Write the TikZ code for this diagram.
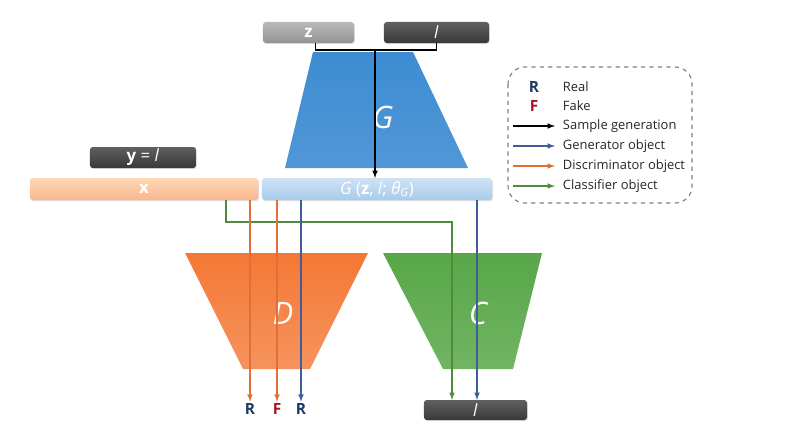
\documentclass[tikz,border=0pt]{standalone}
\usepackage{fontspec}
\setmainfont{Open Sans}
\usetikzlibrary{positioning,shadows}

\begin{document}
\begin{tikzpicture}
            [x=0.025cm, y=-0.025cm,
            >=latex,
            bar/.style={rounded corners=2pt, inner sep=0pt, outer sep=0pt, text=white, font=\fontsize{12}{14}\selectfont,
                drop shadow={shadow xshift=0.6pt, shadow yshift=-0.8pt, opacity=0.25}},
            darkbox/.style={bar, top color=boxtop, bottom color=boxbot},
            net/.style={font=\fontsize{22}{24}\selectfont\itshape, text=white},
            link/.style={->, line width=0.8pt},
            legtext/.style={anchor=west, font=\fontsize{9.2}{11}\selectfont, text=black!85},
            ]
            \definecolor{boxtop}{HTML}{606060}
            \definecolor{boxbot}{HTML}{383838}
            \definecolor{gcolor}{HTML}{3D8CD2}
            \definecolor{dcolor}{HTML}{F47835}
            \definecolor{ccolor}{HTML}{58A748}
            \definecolor{olink}{HTML}{E0703A}
            \definecolor{blink}{HTML}{3F5C9C}
            \definecolor{glink}{HTML}{4F8A3F}
            \definecolor{realcolor}{HTML}{1F3864}
            \definecolor{fakecolor}{HTML}{A31424}
            \useasboundingbox (0,0) rectangle (800,447);

            % networks
            \shade[top color=gcolor, bottom color=gcolor!90!white] (313,52) -- (413,52) -- (468,168) -- (285,168) -- cycle;
            \shade[top color=dcolor, bottom color=dcolor!80!white] (185,253) -- (368,253) -- (310,369) -- (243,369) -- cycle;
            \shade[top color=ccolor, bottom color=ccolor!85!white] (383,253) -- (542,253) -- (513,369) -- (443,369) -- cycle;
            \node[net] (Gname) at (383,117) {G};
            \node[net] (Dname) at (283,313) {D};
            \node[net] (Cname) at (478,313) {C};

            % inputs
            \node[bar, top color=gray!55, bottom color=gray!85, minimum width=2.275cm, minimum height=0.525cm] (zin) at (308.5,32.5) {\textbf{z}};
            \node[darkbox, minimum width=2.625cm, minimum height=0.525cm] (lin) at (436.5,32.5) {\textit{l}};
            \node[darkbox, minimum width=2.65cm, minimum height=0.525cm] (yin) at (143,157.5) {\textbf{y} = \textit{l}};
            \node[bar, top color=orange!30!white, bottom color=dcolor!55!white, minimum width=5.7cm, minimum height=0.55cm] (xbar) at (144,189) {\textbf{x}};
            \node[bar, top color=gcolor!25!white, bottom color=gcolor!45!white, minimum width=5.75cm, minimum height=0.55cm] (gbar) at (377,189) {\textit{G} (\textbf{z}, \textit{l}; \textit{θ}\textsubscript{\textit{G}})};

            % outputs
            \node[font=\fontsize{11}{12}\selectfont\bfseries, text=realcolor, inner sep=1pt] (R1) at (250,409) {R};
            \node[font=\fontsize{11}{12}\selectfont\bfseries, text=fakecolor, inner sep=1pt] (F1) at (277,409) {F};
            \node[font=\fontsize{11}{12}\selectfont\bfseries, text=realcolor, inner sep=1pt] (R2) at (301,409) {R};
            \node[darkbox, minimum width=2.575cm, minimum height=0.5cm] (lout) at (475.5,410) {\textit{l}};

            % sample generation
            \coordinate (split) at (375,50);
            \draw[line width=0.8pt] ([xshift=0.175cm]zin.south) |- (split) -| (lin.south);
            \draw[link, black] (split) -- (split |- gbar.north);

            % classifier
            \coordinate (cbend) at (226,222);
            \draw[link, glink] (xbar.south -| cbend) -- (cbend) -| ([xshift=-0.5875cm]lout.north);
            \draw[link, blink] ([xshift=0.0375cm]gbar.south -| lout.north) -- ([xshift=0.0375cm]lout.north);
            % discriminator
            \draw[link, olink] (xbar.south -| R1) -- (R1.north);
            \draw[link, olink] (gbar.south -| F1) -- (F1.north);
            \draw[link, blink] (gbar.south -| R2) -- (R2.north);

            % legend
            \draw[gray, dashed, line width=0.8pt, rounded corners=12pt] (508,67) rectangle (692,203);
            \node[font=\fontsize{11}{12}\selectfont\bfseries, text=realcolor] (legR) at (534,87) {R};
            \node[font=\fontsize{11}{12}\selectfont\bfseries, text=fakecolor] (legF) at (534,106) {F};
            \node[legtext] (real) at (558,87) {Real};
            \node[legtext] (fake) at (558,106) {Fake};
            \node[legtext] (sample) at (558,126) {Sample generation};
            \node[legtext] (gobj) at (558,146) {Generator object};
            \node[legtext] (dobj) at (558,166) {Discriminator object};
            \node[legtext] (cobj) at (558,186) {Classifier object};
            \draw[link, black] ([xshift=-1.125cm]sample.west) -- ([xshift=-0.075cm]sample.west);
            \draw[link, blink] ([xshift=-1.125cm]gobj.west) -- ([xshift=-0.075cm]gobj.west);
            \draw[link, olink] ([xshift=-1.125cm]dobj.west) -- ([xshift=-0.075cm]dobj.west);
            \draw[link, glink] ([xshift=-1.125cm]cobj.west) -- ([xshift=-0.075cm]cobj.west);
        \end{tikzpicture}
\end{document}
